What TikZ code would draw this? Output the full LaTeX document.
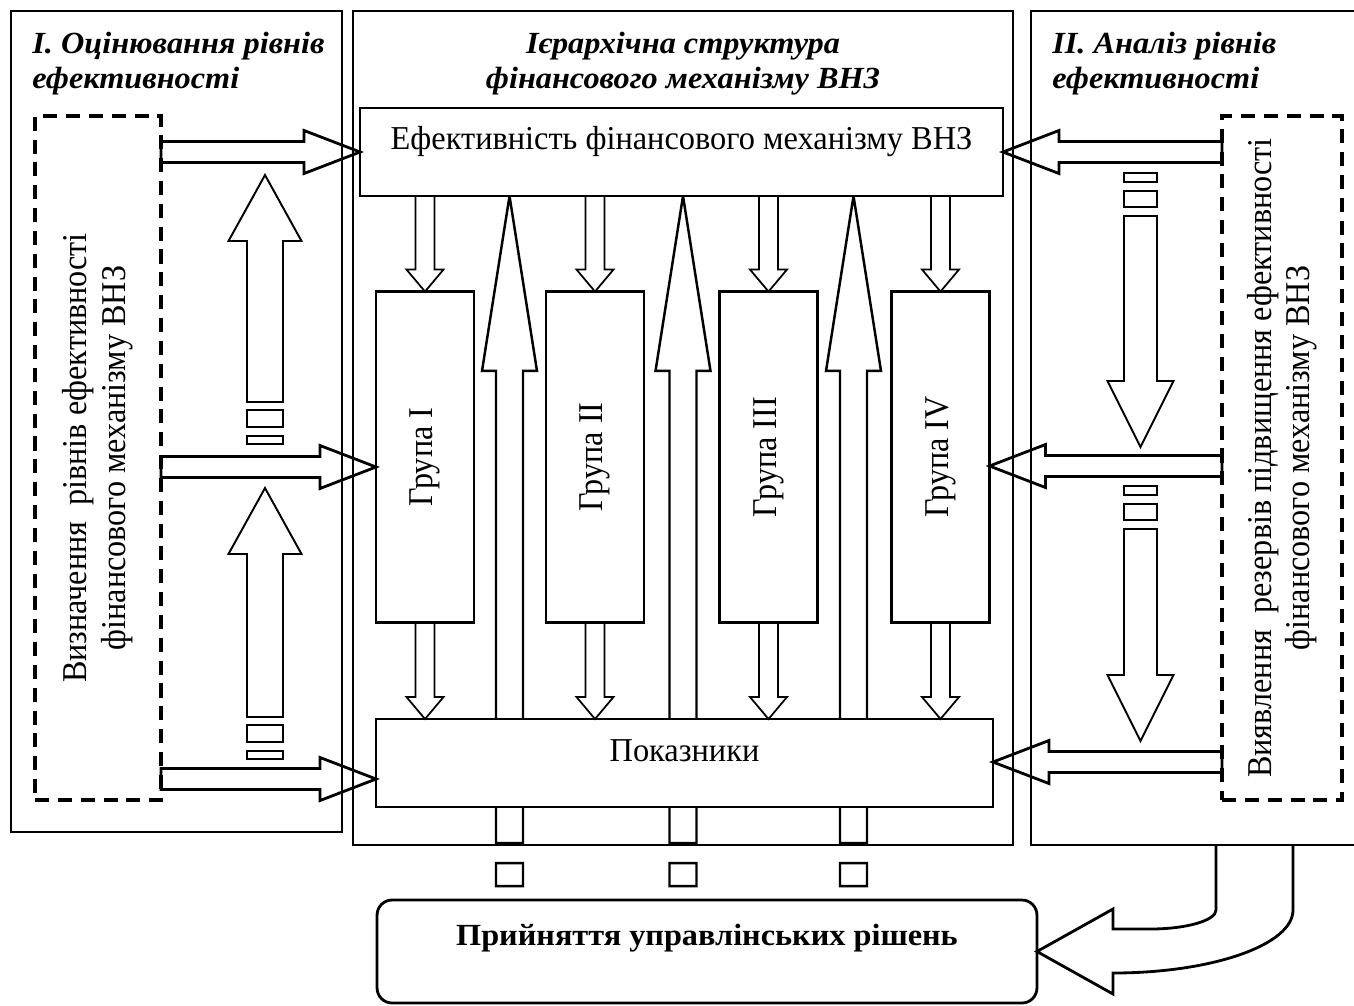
\documentclass[tikz,border=0pt]{standalone}
\usepackage{fontspec}
\setmainfont{Liberation Serif}[FakeStretch=0.97]
\newfontfamily\ttlfont{Liberation Serif}[FakeStretch=1.05]
\newfontfamily\rotfont{Liberation Serif}[FakeStretch=0.925]
\usetikzlibrary{calc,backgrounds}

\tikzset{
  blk/.style n args={3}{to path={
    ($(\tikztostart)!#1!90:(\tikztotarget)$)
    -- ($(\tikztotarget)!#3!(\tikztostart)!#1!90:(\tikztotarget)$)
    -- ($(\tikztotarget)!#3!(\tikztostart)!#2!90:(\tikztotarget)$)
    -- (\tikztotarget)
    -- ($(\tikztotarget)!#3!(\tikztostart)!#2!-90:(\tikztotarget)$)
    -- ($(\tikztotarget)!#3!(\tikztostart)!#1!-90:(\tikztotarget)$)
    -- ($(\tikztostart)!#1!-90:(\tikztotarget)$) -- cycle}},
  hblk/.style={blk={0.21cm}{0.43cm}{1.12cm}},
  sblk/.style={blk={0.19cm}{0.37cm}{0.44cm}},
  ublk/.style={blk={0.27cm}{0.55cm}{3.5cm}}
}

\begin{document}
\begin{tikzpicture}[x=0.02cm,y=-0.02cm,line join=miter,
                    font=\fontsize{19}{22}\selectfont]
  \tikzstyle{panel}=[draw,line width=0.9pt]
  \tikzstyle{box}=[draw,fill=white,line width=1.6pt,outer sep=0pt,inner sep=0pt]
  \tikzstyle{dbox}=[draw,line width=1.8pt,dash pattern=on 8pt off 5pt,
    outer sep=0pt,inner sep=0pt]
  \tikzstyle{rot}=[rotate=90,align=center,
    font=\rotfont\fontsize{19.8}{22}\selectfont]
  \tikzstyle{title}=[inner sep=0pt,
    font=\ttlfont\fontsize{17.5}{19.85}\selectfont\bfseries\itshape]
  \tikzstyle{harr}=[draw,line width=1.6pt]
  \tikzstyle{sarr}=[draw,line width=1pt]
  \tikzstyle{uarr}=[draw,line width=1.4pt]
  \tikzstyle{stp}=[draw,line width=1.1pt]
  \useasboundingbox (0,0) rectangle (1354,1005);
  \clip (0,0) rectangle (1354,1005);

  % frames
  \draw[panel] (11,11) rectangle (342,832);
  \draw[panel] (353,11) rectangle (1013,845);
  \draw[panel] (1031,11) rectangle (1360,845);

  \node[title,anchor=north west,align=left] (t1) at (32,32)
    {I. Оцінювання рівнів\\ефективності};
  \node[title,anchor=north,align=center] (t2) at (683,32)
    {Ієрархічна структура\\фінансового механізму ВНЗ};
  \node[title,anchor=north west,align=left] (t3) at (1052,32)
    {II. Аналіз рівнів\\ефективності};

  % boxes
  \node[box,minimum width=12.86cm,minimum height=1.76cm] (eff) at (681.5,152) {};
  \node (efft) at (681.5,142) {Ефективність фінансового механізму ВНЗ};
  \foreach \n/\x/\gr in {1/425/I,2/595/II,3/768.5/III,4/940.5/IV}
    \node[box,minimum width=1.96cm,minimum height=6.62cm,
      label={[rot]center:Група \gr}] (g\n) at (\x,457) {};
  \node[box,minimum width=12.34cm,minimum height=1.76cm] (pok) at (684.5,763) {};
  \node (pokt) at (684.5,751) {Показники};
  \node[box,rounded corners=0.3cm,minimum width=13.2cm,minimum height=2.06cm]
    (dec) at (707,951.5) {};
  \node[font=\ttlfont\fontsize{17.5}{20}\selectfont\bfseries] (dect) at (707,938)
    {Прийняття управлінських рішень};

  \node[dbox,minimum width=2.52cm,minimum height=13.68cm,
    label={[rot]center:Визначення~~рівнів ефективності\\фінансового механізму ВНЗ}]
    (ld) at (98,458) {};
  \node[dbox,minimum width=2.4cm,minimum height=13.68cm,
    label={[rot]center:Виявлення~~резервів підвищення ефективності\\фінансового механізму ВНЗ}]
    (rd) at (1282,458) {};

  % arrow ends
  \coordinate (lm) at (161,467);
  \coordinate (lb) at (161,779);
  \coordinate (rm) at (1222,466);
  \coordinate (rb) at (1222,762);
  \coordinate (u1) at (509.5,843);
  \coordinate (u2) at (683,843);
  \coordinate (u3) at (853.5,843);
  \coordinate (lup1) at (265,402);  \coordinate (lup1t) at (265,175);
  \coordinate (lup2) at (265,717);  \coordinate (lup2t) at (265,488);
  \coordinate (rdn1) at (1140.5,216); \coordinate (rdn1t) at (1140.5,447);
  \coordinate (rdn2) at (1140.5,529); \coordinate (rdn2t) at (1140.5,741);

  \draw[harr] (ld.east |- eff.west) to[hblk] (eff.west)
              (lm) to[hblk] (lm -| g1.west)
              (lb) to[hblk] (lb -| pok.west)
              (rd.west |- eff.east) to[hblk] (eff.east)
              (rm) to[hblk] (rm -| g4.east)
              (rb) to[hblk] (rb -| pok.east);

  \foreach \g in {g1,g2,g3,g4}
    \draw[sarr] (eff.south -| \g.north) to[sblk] (\g.north)
                (\g.south) to[sblk] (\g.south |- pok.north);

  \begin{scope}[on background layer]
    \foreach \u in {u1,u2,u3}
      \draw[uarr] (\u) to[ublk] (\u |- eff.south)
                  (\u) ++(-13.5,20) rectangle ++(27,23);
  \end{scope}

  \foreach \s in {lup1,lup2}
    \draw[stp] (\s) to[blk={0.36cm}{0.73cm}{1.32cm}] (\s t)
               (\s) ++(-18,8) rectangle ++(36,17)
               (\s) ++(-18,34) rectangle ++(36,8);
  \foreach \s in {rdn1,rdn2}
    \draw[stp] (\s) to[blk={0.33cm}{0.66cm}{1.32cm}] (\s t)
               (\s) ++(-16.5,-9) rectangle ++(33,-16)
               (\s) ++(-16.5,-34) rectangle ++(33,-9);

  % to the decision box
  \draw[harr] (1216,845) -- (1216,910) .. controls (1216,920.5) and (1186.4,929) ..
    (1150,929) -- (1113,929) -- (1113,909) -- (dec.east) -- (1113,994)
    -- (1113,973) .. controls (1212.4,973) and (1293,944.8) .. (1293,910)
    -- (1293,845);
\end{tikzpicture}
\end{document}
